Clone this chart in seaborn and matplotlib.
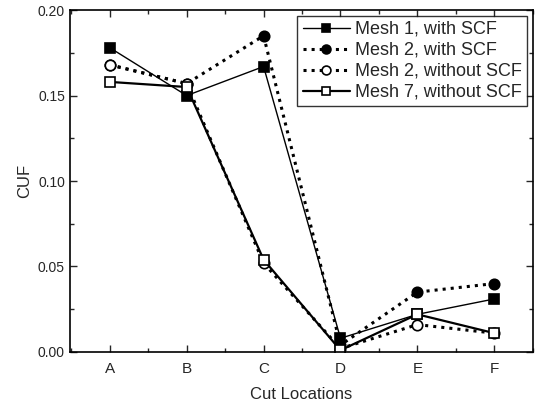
import numpy as np
import pandas as pd
import matplotlib
matplotlib.use("Agg")
import matplotlib.pyplot as plt
import seaborn as sns
from matplotlib.ticker import MultipleLocator, AutoMinorLocator

cut_locations = ["A", "B", "C", "D", "E", "F"]
mesh1_scf = [0.178, 0.150, 0.167, 0.008, 0.022, 0.031]
mesh2_scf = [0.168, 0.157, 0.185, 0.004, 0.035, 0.040]
mesh2_noscf = [0.168, 0.157, 0.052, 0.002, 0.016, 0.011]
mesh7_noscf = [0.158, 0.155, 0.054, 0.001, 0.022, 0.011]

series = [
    ("Mesh 1, with SCF", mesh1_scf, "-", 1.0, "s", "black"),
    ("Mesh 2, with SCF", mesh2_scf, ":", 2.2, "o", "black"),
    ("Mesh 2, without SCF", mesh2_noscf, ":", 2.2, "o", "white"),
    ("Mesh 7, without SCF", mesh7_noscf, "-", 1.6, "s", "white"),
]

sns.set_style("ticks")
plt.rcParams['font.family'] = ['Liberation Sans', 'DejaVu Sans']

fig = plt.figure(figsize=(5.37, 4.05), dpi=100)
ax = fig.add_axes([0.130, 0.131, 0.862, 0.844])

xs = np.arange(len(cut_locations))
for name, vals, ls, lw, mk, face in series:
    df = pd.DataFrame({"x": xs, "CUF": vals})
    sns.lineplot(data=df, x="x", y="CUF", ax=ax, color="black", linestyle=ls,
                 linewidth=lw, marker=mk, markersize=7.5, markerfacecolor=face,
                 markeredgecolor="black", markeredgewidth=1.2, label=name)

ax.set_xlim(-0.52, 5.5)
ax.set_ylim(0, 0.20)
ax.set_xticks(xs)
ax.set_xticklabels(cut_locations)
ax.yaxis.set_major_locator(MultipleLocator(0.05))
ax.yaxis.set_minor_locator(AutoMinorLocator(2))
ax.xaxis.set_minor_locator(AutoMinorLocator(2))
ax.yaxis.set_major_formatter(plt.FormatStrFormatter("%.2f"))
ax.tick_params(which="both", direction="in", top=True, right=True, labelsize=10)
ax.tick_params(which="major", length=5, width=1)
ax.tick_params(which="minor", length=3, width=1)
ax.tick_params(axis="x", pad=7, labelsize=11)
for sp in ax.spines.values():
    sp.set_linewidth(1.2)
    sp.set_color("black")

ax.set_xlabel("Cut Locations", fontsize=12, labelpad=8)
ax.set_ylabel("CUF", fontsize=12, labelpad=4)

leg = ax.legend(loc="upper right", fontsize=13, frameon=True, fancybox=False,
                edgecolor="black", handlelength=2.6, borderpad=0.3,
                labelspacing=0.22, handletextpad=0.3, borderaxespad=0.3,
                markerscale=0.85)
leg.get_frame().set_linewidth(1.0)

fig.savefig("out.png", dpi=100)
